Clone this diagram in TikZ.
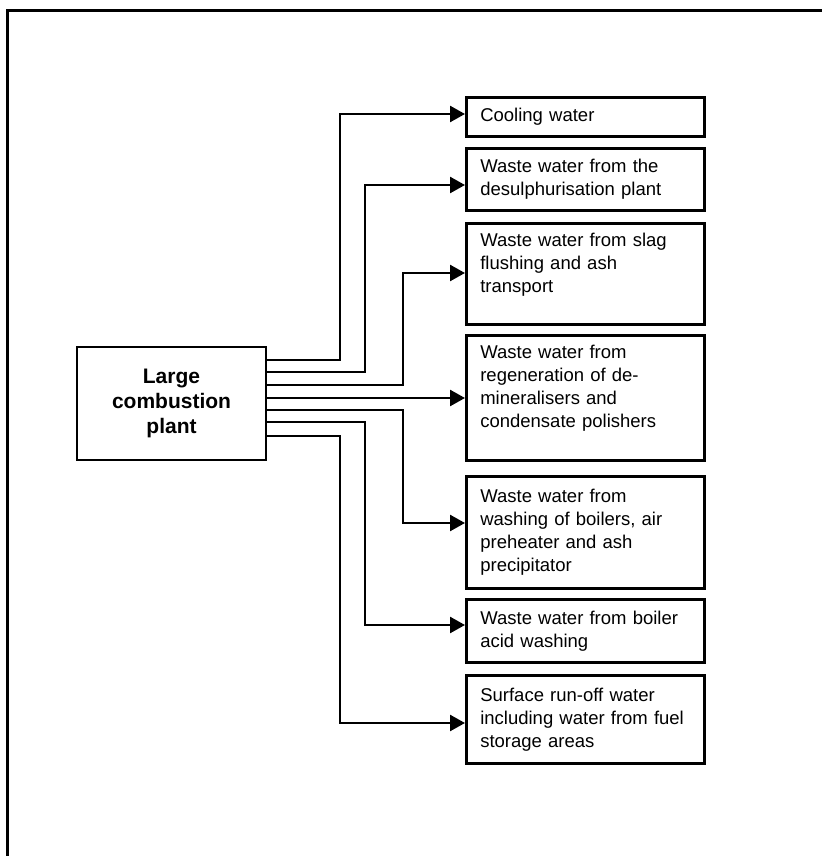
\documentclass[tikz,border=0pt]{standalone}
\usepackage{fontspec}
\setmainfont{Liberation Sans}
\usetikzlibrary{arrows.meta, positioning}
\tikzset{
  plantbox/.style={rectangle,draw=black,line width=2.6pt,minimum width=189pt,minimum height=113pt,
    align=center,font=\fontsize{21}{25}\selectfont\bfseries},
  outbox/.style={rectangle,draw=black,line width=2.6pt,anchor=north west,minimum width=238pt,
    text width=210pt,inner xsep=14pt,inner ysep=0pt,align=left,font=\fontsize{18.5}{23}\selectfont},
  arrow/.style={-{Triangle[length=15pt,width=16pt]},line width=2.5pt,color=black},
  frame/.style={line width=3pt,color=black}
}
\begin{document}
\begin{tikzpicture}[x=1pt,y=-1pt]
  \useasboundingbox (0,0) rectangle (822,856);
  % ── Frame (cut off at right and bottom) ──────────────────────────────────
  \draw[frame] (7.5,856) -- (7.5,11) -- (822,11);

  % ── Source ───────────────────────────────────────────────────────────────
  \node[plantbox] (plant) at (171.5,403.5) {Large\\combustion\\plant};

  % ── Waste water streams ──────────────────────────────────────────────────
  \node[outbox, minimum height=39pt]  (cool)    at (465,96)  {Cooling water};
  \node[outbox, minimum height=62pt]  (desulph) at (465,147) {Waste water from the\\desulphurisation plant};
  \node[outbox, minimum height=101pt] (slag)    at (465,222) {Waste water from slag\\flushing and ash\\transport\\ \mbox{}};
  \node[outbox, minimum height=125pt] (demin)   at (465,334) {Waste water from\\regeneration of de-\\mineralisers and\\condensate polishers\\ \mbox{}};
  \node[outbox, minimum height=112pt] (boiler)  at (465,475) {Waste water from\\washing of boilers, air\\preheater and ash\\precipitator};
  \node[outbox, minimum height=63pt]  (acid)    at (465,598) {Waste water from boiler\\acid washing};
  \node[outbox, minimum height=88pt]  (runoff)  at (465,674) {Surface run-off water\\including water from fuel\\storage areas};

  % ── Connectors ───────────────────────────────────────────────────────────
  \draw[arrow] (plant.east |- 0,360) -| (340,114) -- (cool.west |- 0,114);
  \draw[arrow] (plant.east |- 0,372) -| (365,185) -- (desulph.west |- 0,185);
  \draw[arrow] (plant.east |- 0,385) -| (403,273) -- (slag.west |- 0,273);
  \draw[arrow] (plant.east |- 0,398) -- (demin.west |- 0,398);
  \draw[arrow] (plant.east |- 0,410) -| (403,523) -- (boiler.west |- 0,523);
  \draw[arrow] (plant.east |- 0,422) -| (365,625) -- (acid.west |- 0,625);
  \draw[arrow] (plant.east |- 0,436) -| (340,723) -- (runoff.west |- 0,723);
\end{tikzpicture}
\end{document}
